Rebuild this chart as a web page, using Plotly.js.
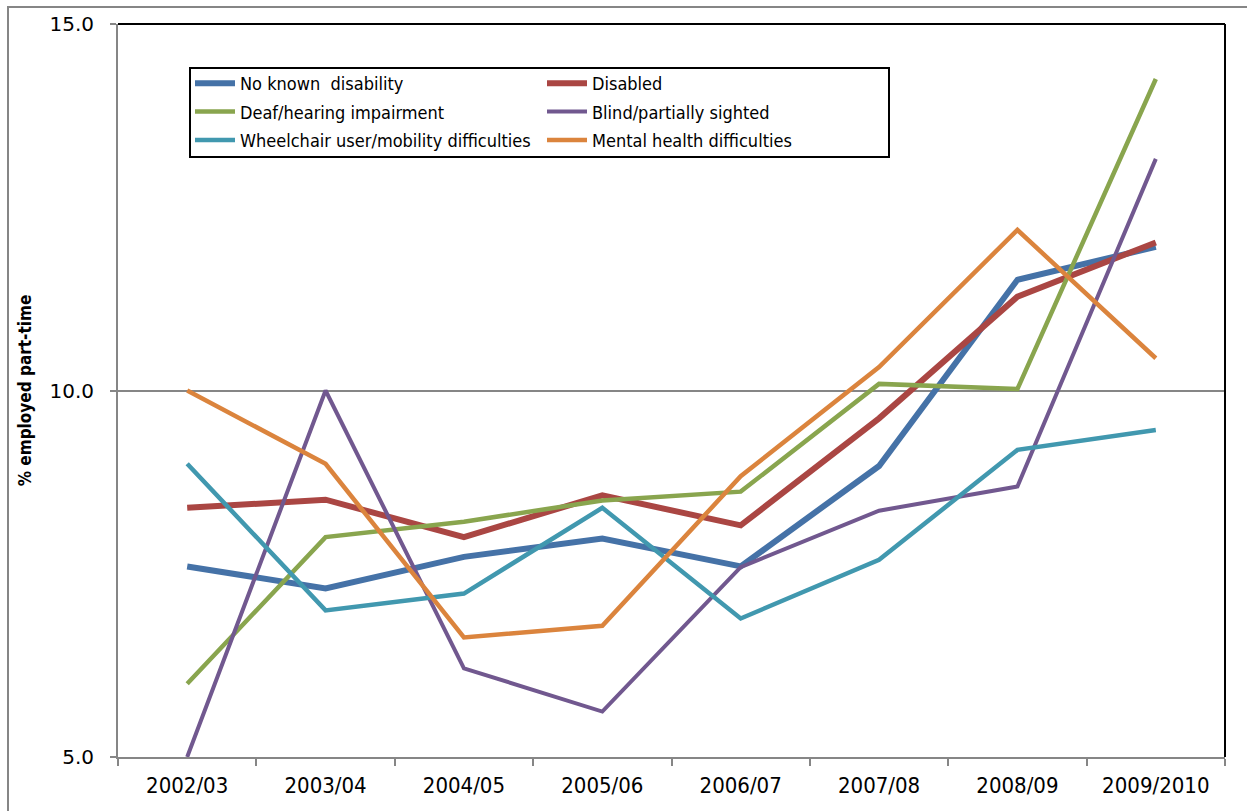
<!DOCTYPE html>
<html><head><meta charset="utf-8">
<script src="https://cdn.plot.ly/plotly-3.0.1.min.js"></script>
<style>html,body{margin:0;padding:0;background:#fff}#chart{width:1247px;height:811px}</style>
</head><body><div id="chart"></div>
<script>
const years = ["2002/03","2003/04","2004/05","2005/06","2006/07","2007/08","2008/09","2009/2010"];
const noKnownDisability = [7.60, 7.30, 7.73, 7.98, 7.60, 8.97, 11.51, 11.96];
const disabled          = [8.40, 8.51, 8.00, 8.57, 8.16, 9.62, 11.28, 12.02];
const deafHearing       = [6.00, 8.00, 8.21, 8.50, 8.62, 10.09, 10.02, 14.25];
const blindPartially    = [5.00, 10.00, 6.21, 5.62, 7.59, 8.36, 8.69, 13.16];
const wheelchairMobility= [9.00, 7.00, 7.23, 8.40, 6.89, 7.69, 9.19, 9.46];
const mentalHealth      = [10.00, 9.00, 6.63, 6.79, 8.83, 10.32, 12.19, 10.44];
const seriesNames = ["No known  disability","Disabled","Deaf/hearing impairment","Blind/partially sighted","Wheelchair user/mobility difficulties","Mental health difficulties"];
const yTicks = [5, 10, 15];

const seriesValues = [noKnownDisability, disabled, deafHearing, blindPartially, wheelchairMobility, mentalHealth];
const colors = ["#4572A7","#AA4643","#89A54E","#71588F","#4198AF","#DB843D"];
const widths = [6, 6, 4.5, 4, 4.5, 4.5];
const legendIds = ["legend","legend2","legend","legend2","legend","legend2"];

const narrow = '"Liberation Sans Narrow", "DejaVu Sans Condensed", "Arial Narrow", sans-serif';

const traces = seriesValues.map((vals, i) => ({
  type: 'scatter', mode: 'lines',
  x: years, y: vals, name: seriesNames[i],
  line: {color: colors[i], width: widths[i]},
  legend: legendIds[i], legendgroup: 'g' + i,
  hoverinfo: 'x+y+name'
}));

const W = 1247, H = 811, L = 118, R = 1225, T = 24, B = 757;
const px = x => (x - L) / (R - L);
const py = y => (B - y) / (B - T);

const legendCommon = {
  orientation: 'v', bgcolor: 'rgba(0,0,0,0)', borderwidth: 0,
  font: {family: narrow, size: 18, color: '#000'},
  xanchor: 'left', yanchor: 'top', tracegroupgap: 2, itemwidth: 40
};

const layout = {
  width: W, height: H,
  margin: {l: L, r: W - R, t: T, b: H - B, pad: 0},
  paper_bgcolor: '#fff', plot_bgcolor: '#fff',
  showlegend: true,
  legend: Object.assign({}, legendCommon, {x: px(190), y: py(65)}),
  legend2: Object.assign({}, legendCommon, {x: px(542), y: py(65)}),
  xaxis: {
    type: 'category', range: [-0.5, 7.5], tickson: 'boundaries',
    ticks: 'outside', ticklen: 7, tickwidth: 2, tickcolor: '#868686',
    showline: true, linecolor: '#868686', linewidth: 2,
    showgrid: false, zeroline: false,
    tickfont: {family: narrow, size: 22, color: '#000'},
    ticklabelstandoff: 8
  },
  yaxis: {
    range: [5, 15], tickvals: yTicks, tickformat: '.1f',
    ticks: 'outside', ticklen: 6, tickwidth: 2, tickcolor: '#868686',
    showline: true, linecolor: '#868686', linewidth: 2,
    showgrid: true, gridcolor: '#868686', gridwidth: 2, zeroline: false,
    tickfont: {family: '"DejaVu Sans", sans-serif', size: 20, color: '#000'},
    ticklabelstandoff: 12,
    title: {text: '% employed part-time', font: {family: narrow, size: 17, color: '#000', weight: 'bold'}, standoff: 14}
  },
  shapes: [
    {type: 'rect', xref: 'paper', yref: 'paper', x0: px(8), x1: px(1260), y0: py(820), y1: py(7),
     line: {color: '#868686', width: 2}, fillcolor: 'rgba(0,0,0,0)', layer: 'below'},
    {type: 'line', xref: 'paper', yref: 'paper', x0: 0, x1: 1, y0: 1, y1: 1, line: {color: '#000', width: 2}},
    {type: 'line', xref: 'paper', yref: 'paper', x0: 1, x1: 1, y0: 0, y1: 1, line: {color: '#000', width: 2}},
    {type: 'rect', xref: 'paper', yref: 'paper', x0: px(190), x1: px(889), y0: py(157), y1: py(68),
     line: {color: '#000', width: 2}, fillcolor: '#fff', layer: 'below'}
  ]
};

Plotly.newPlot('chart', traces, layout, {displayModeBar: false, staticPlot: true});
</script></body></html>
